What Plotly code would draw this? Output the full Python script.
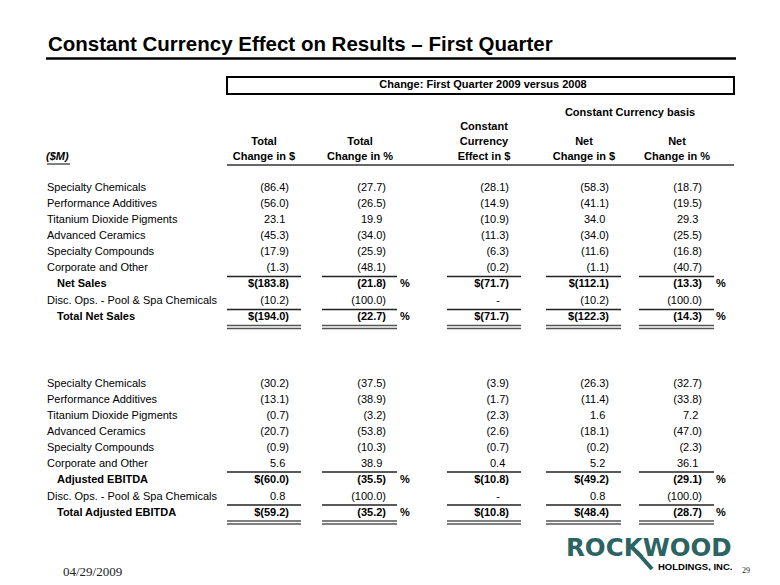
import plotly.graph_objects as go

# ---------------- data ----------------
segments = ["Specialty Chemicals", "Performance Additives", "Titanium Dioxide Pigments",
            "Advanced Ceramics", "Specialty Compounds", "Corporate and Other"]

sales_labels = segments + ["Net Sales", "Disc. Ops. - Pool & Spa Chemicals", "Total Net Sales"]
sales_total_usd = [-86.4, -56.0, 23.1, -45.3, -17.9, -1.3, -183.8, -10.2, -194.0]
sales_total_pct = [-27.7, -26.5, 19.9, -34.0, -25.9, -48.1, -21.8, -100.0, -22.7]
sales_cc_effect = [-28.1, -14.9, -10.9, -11.3, -6.3, -0.2, -71.7, None, -71.7]
sales_net_usd = [-58.3, -41.1, 34.0, -34.0, -11.6, -1.1, -112.1, -10.2, -122.3]
sales_net_pct = [-18.7, -19.5, 29.3, -25.5, -16.8, -40.7, -13.3, -100.0, -14.3]

ebitda_labels = segments + ["Adjusted EBITDA", "Disc. Ops. - Pool & Spa Chemicals", "Total Adjusted EBITDA"]
ebitda_total_usd = [-30.2, -13.1, -0.7, -20.7, -0.9, 5.6, -60.0, 0.8, -59.2]
ebitda_total_pct = [-37.5, -38.9, -3.2, -53.8, -10.3, 38.9, -35.5, -100.0, -35.2]
ebitda_cc_effect = [-3.9, -1.7, -2.3, -2.6, -0.7, 0.4, -10.8, None, -10.8]
ebitda_net_usd = [-26.3, -11.4, 1.6, -18.1, -0.2, 5.2, -49.2, 0.8, -48.4]
ebitda_net_pct = [-32.7, -33.8, 7.2, -47.0, -2.3, 36.1, -29.1, -100.0, -28.7]

col_headers = [["", "Total", "Change in $"],
               ["", "Total", "Change in %"],
               ["Constant", "Currency", "Effect in $"],
               ["", "Net", "Change in $"],
               ["", "Net", "Change in %"]]
col_is_dollar = [True, False, True, True, False]
bold_rows = [6, 8]

title_text = "Constant Currency Effect on Results \u2013 First Quarter"
box_text = "Change: First Quarter 2009 versus 2008"
group_text = "Constant Currency basis"
unit_text = "($M)"
date_text = "04/29/2009"
page_text = "29"

# ---------------- layout geometry ----------------
# the page body has an 8px margin, so the figure starts at page pixel 8
W, H = 780, 585
OFF = 8
FONT = "Arial, 'Liberation Sans', sans-serif"
col_right = [289, 386, 509, 609, 702]
col_line = [(227, 301), (322, 397), (447, 521), (546, 621), (639, 714)]
col_center = [264, 360, 484, 584, 677]
pct_x = [405, 721]
label_x, label_x_bold = 47, 57
PAREN_W = 3.7


def fmt(v, dollar, bold):
    if v is None:
        return "-"
    s = f"{abs(v):.1f}"
    if v < 0:
        s = "(" + s + ")"
    if dollar and bold:
        s = "$" + s
    return s


def row_ys(y0):
    return [y0 + 16 * i for i in range(7)] + [y0 + 16 * 6 + 17, y0 + 16 * 6 + 33]


fig = go.Figure()
shapes = []


def add_section(labels, cols, y0):
    ys = row_ys(y0)
    lx, ly, lt = [], [], []
    for i, lab in enumerate(labels):
        b = i in bold_rows
        lx.append(label_x_bold if b else label_x)
        ly.append(ys[i])
        lt.append(f"<b>{lab}</b>" if b else lab)
    fig.add_trace(go.Scatter(x=lx, y=ly, text=lt, mode="text", textposition="middle right",
                             textfont=dict(family=FONT, size=11, color="#000"),
                             hoverinfo="skip", showlegend=False))
    vx, vy, vt = [], [], []
    for c, vals in enumerate(cols):
        for i, v in enumerate(vals):
            b = i in bold_rows
            s = fmt(v, col_is_dollar[c], b)
            x = col_right[c]
            if v is None:
                x -= 9
            elif v >= 0:
                x -= PAREN_W
            vx.append(x)
            vy.append(ys[i])
            vt.append(f"<b>{s}</b>" if b else s)
    fig.add_trace(go.Scatter(x=vx, y=vy, text=vt, mode="text", textposition="middle left",
                             textfont=dict(family=FONT, size=11, color="#000"),
                             hoverinfo="skip", showlegend=False))
    px, py, pt = [], [], []
    for i in bold_rows:
        for xx in pct_x:
            px.append(xx)
            py.append(ys[i])
            pt.append("<b>%</b>")
    fig.add_trace(go.Scatter(x=px, y=py, text=pt, mode="text", textposition="middle center",
                             textfont=dict(family=FONT, size=11, color="#000"),
                             hoverinfo="skip", showlegend=False))
    for (x0, x1) in col_line:
        for yy in (y0 + 88, y0 + 121):
            shapes.append(dict(type="line", xref="x", yref="y", x0=x0, x1=x1, y0=yy, y1=yy,
                               line=dict(color="#222", width=1.3)))
        for yy in (y0 + 137, y0 + 140):
            shapes.append(dict(type="line", xref="x", yref="y", x0=x0, x1=x1, y0=yy, y1=yy,
                               line=dict(color="#555", width=1.3)))


add_section(sales_labels, [sales_total_usd, sales_total_pct, sales_cc_effect, sales_net_usd, sales_net_pct], 188.5)
add_section(ebitda_labels, [ebitda_total_usd, ebitda_total_pct, ebitda_cc_effect, ebitda_net_usd, ebitda_net_pct], 384)

hx, hy, ht = [], [], []
for c, lines in enumerate(col_headers):
    for k, t in enumerate(lines):
        if t:
            hx.append(col_center[c])
            hy.append(127 + 15 * k)
            ht.append(f"<b>{t}</b>")
hx += [630, 483]
hy += [113, 85.5]
ht += [f"<b>{group_text}</b>", f"<b>{box_text}</b>"]
fig.add_trace(go.Scatter(x=hx, y=hy, text=ht, mode="text", textposition="middle center",
                         textfont=dict(family=FONT, size=11, color="#000"),
                         hoverinfo="skip", showlegend=False))
fig.add_trace(go.Scatter(x=[46], y=[157], text=[f"<b><i>{unit_text}</i></b>"], mode="text",
                         textposition="middle right",
                         textfont=dict(family=FONT, size=11, color="#000"),
                         hoverinfo="skip", showlegend=False))

shapes += [
    dict(type="line", xref="x", yref="y", x0=46, x1=736, y0=58.5, y1=58.5, line=dict(color="#000", width=2.5)),
    dict(type="rect", xref="x", yref="y", x0=227, x1=734, y0=77, y1=94, line=dict(color="#000", width=2)),
    dict(type="line", xref="x", yref="y", x0=227, x1=734, y0=165, y1=165, line=dict(color="#333", width=1.3)),
    dict(type="line", xref="x", yref="y", x0=47, x1=70, y0=164, y1=164, line=dict(color="#000", width=1)),
    dict(type="line", xref="x", yref="y", x0=636, x1=652, y0=551, y1=569, line=dict(color="#2b6462", width=4)),
]

annotations = [
    dict(xref="x", yref="y", x=46, y=43.5, xanchor="left", yanchor="middle", showarrow=False,
         text=f"<b>{title_text}</b>", font=dict(family=FONT, size=20.5, color="#000")),
    dict(xref="x", yref="y", x=564, y=546.5, xanchor="left", yanchor="middle", showarrow=False,
         height=18, text="<b>ROCKWOOD</b>",
         font=dict(family="'DejaVu Sans', sans-serif", size=24.5, color="#2b6462")),
    dict(xref="x", yref="y", x=734, y=566, xanchor="right", yanchor="middle", showarrow=False,
         height=9, text="<b>HOLDINGS, INC.</b>", font=dict(family=FONT, size=9.5, color="#000")),
    dict(xref="x", yref="y", x=61, y=571, xanchor="left", yanchor="middle", showarrow=False,
         text=date_text, font=dict(family="'Liberation Serif', serif", size=13, color="#222")),
    dict(xref="x", yref="y", x=746, y=570, xanchor="center", yanchor="middle", showarrow=False,
         text=page_text, font=dict(family="'Liberation Serif', serif", size=8, color="#222")),
]

fig.update_layout(
    width=W - OFF, height=H - OFF, margin=dict(l=0, r=0, t=0, b=0, pad=0),
    paper_bgcolor="white", plot_bgcolor="white",
    xaxis=dict(range=[OFF, W], visible=False, fixedrange=True),
    yaxis=dict(range=[H, OFF], visible=False, fixedrange=True),
    shapes=shapes, annotations=annotations, showlegend=False,
)

fig.write_html("out.html")
